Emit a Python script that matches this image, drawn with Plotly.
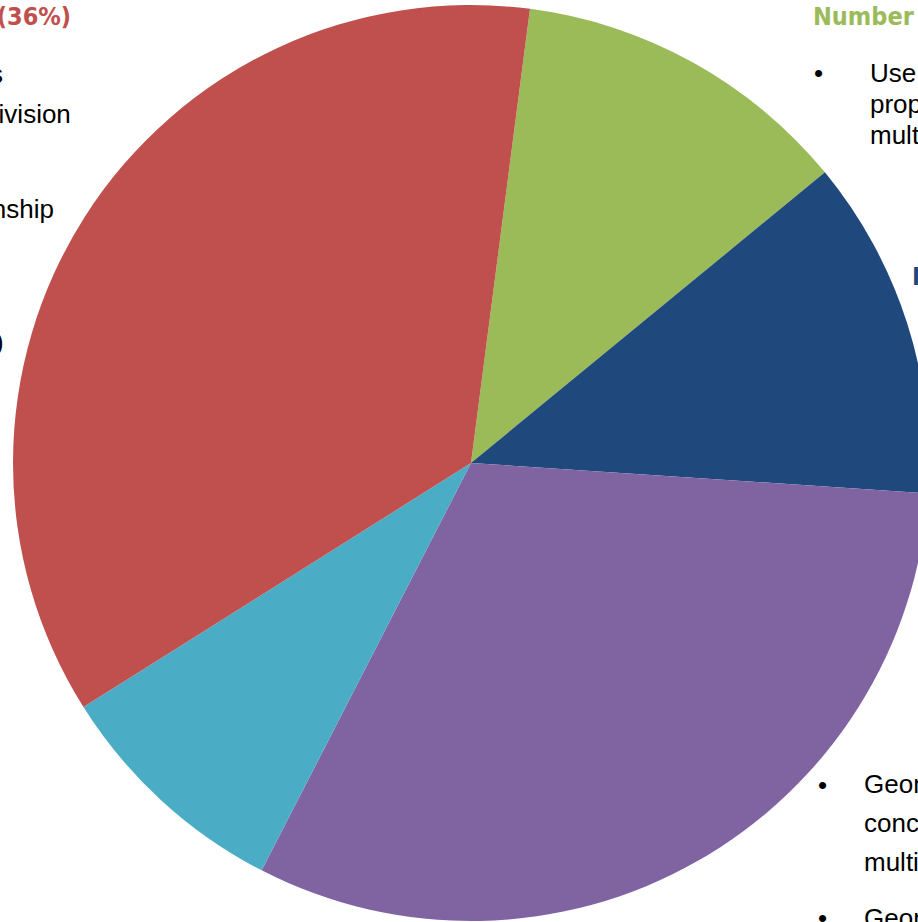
import plotly.graph_objects as go

# Data
categories = ["Number and place value", "Measurement", "Geometry", "Statistics", "Calculations"]
values = [12, 12, 31.5, 8.5, 36]
colors = ["#9BBB59", "#1F497D", "#8064A2", "#4BACC6", "#C0504D"]

W, H = 932, 922
fig = go.Figure()
fig.add_trace(go.Pie(
    labels=categories, values=values, sort=False, direction="clockwise",
    rotation=7.4, marker=dict(colors=colors, line=dict(width=0)),
    textinfo="none", hoverinfo="label+percent", showlegend=False,
    domain=dict(x=[13 / W, 929 / W], y=[1 / H, 917 / H]),
))

def px(x, y):
    return x / W, 1 - y / H

body = dict(family="Liberation Sans, Arial", size=26, color="#000000")
head = dict(family="DejaVu Sans Condensed, DejaVu Sans", size=25)

annots = []
def add(text, x, y, anchor, font):
    xp, yp = px(x, y)
    annots.append(dict(text=text, x=xp, y=yp, xref="paper", yref="paper",
                       xanchor=anchor, yanchor="middle", showarrow=False, font=font))

# Left column (clipped)
add("<b>Calculations (36%)</b>", 73, 16, "right", dict(head, color="#C0504D"))
add("Four operations", 5, 74, "right", body)
add("multiplication and division", 73, 114, "right", body)
add("relationship", 56, 209, "right", body)
add("(fractions)", 6, 342, "right", body)

# Right column (clipped)
add("<b>Number and place value (12%)</b>", 811, 16, "left", dict(head, color="#9BBB59"))
add("•", 818, 73, "center", body)
add("Use and apply place value", 868, 73, "left", body)
add("properties of numbers", 868, 104, "left", body)
add("multiples and factors", 868, 135, "left", body)
add("<b>Measurement (12%)</b>", 910, 276, "left", dict(head, color="#1F497D"))
add("•", 822, 785, "center", body)
add("Geometry and shape", 862, 784, "left", body)
add("concepts of angles", 862, 823, "left", body)
add("multiple shapes", 862, 862, "left", body)
add("•", 822, 918, "center", body)
add("Geometry position", 862, 918, "left", body)

fig.update_layout(width=W, height=H, margin=dict(l=0, r=0, t=0, b=0),
                  paper_bgcolor="white", plot_bgcolor="white", annotations=annots)
fig.write_html("out.html", config={"displayModeBar": False},
               post_script="document.body.style.margin='0';document.body.style.overflow='hidden';")
